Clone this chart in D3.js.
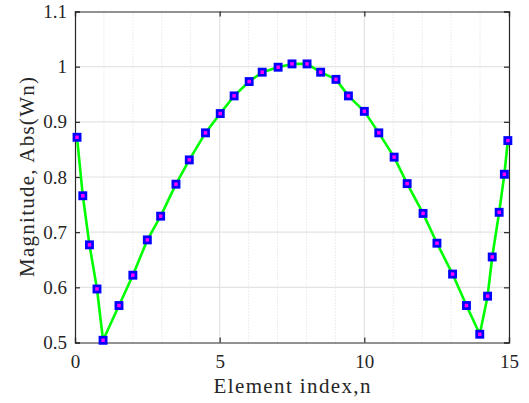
<!DOCTYPE html>
<html><head><meta charset="utf-8">
<script src="https://cdn.jsdelivr.net/npm/d3@7"></script>
<style>body{margin:0;background:#fff}</style>
</head><body>
<svg id="c" width="529" height="403"></svg>
<script>
const xValues = [0.07,0.27,0.5,0.76,0.97,1.52,2.0,2.5,2.96,3.49,3.95,4.51,5.02,5.5,6.02,6.47,7.02,7.5,8.02,8.49,9.02,9.45,10.0,10.5,11.03,11.48,12.03,12.51,13.05,13.53,13.99,14.26,14.42,14.66,14.84,14.96];
const yValues = [0.872,0.766,0.677,0.597,0.504,0.567,0.622,0.686,0.729,0.787,0.831,0.880,0.915,0.947,0.973,0.990,0.999,1.005,1.005,0.990,0.977,0.947,0.919,0.880,0.836,0.788,0.734,0.680,0.624,0.567,0.515,0.584,0.655,0.736,0.805,0.866];
const xTicks = [0,5,10,15];
const xMinorTicks = [1,2,3,4,6,7,8,9,11,12,13,14];
const yTicks = [0.5,0.6,0.7,0.8,0.9,1.0,1.1];
const yTickLabels = ["0.5","0.6","0.7","0.8","0.9","1","1.1"];
const xLabel = "Element index,n";
const yLabel = "Magnitude, Abs(Wn)";

const L=75, R=509, T=11.5, B=342.5;
const svg=d3.select("#c");
const x=d3.scaleLinear().domain([0,15]).range([L,R]);
const y=d3.scaleLinear().domain([0.5,1.1]).range([B,T]);
const font='"Liberation Serif"';

// minor grid
svg.append("g").selectAll("line").data(xMinorTicks).join("line")
  .attr("x1",d=>x(d)).attr("x2",d=>x(d)).attr("y1",T).attr("y2",B)
  .attr("stroke","#d4d4d4").attr("stroke-width",0.8).attr("stroke-dasharray","1,2");
// major grid
svg.append("g").selectAll("line").data(xTicks.slice(1,-1)).join("line")
  .attr("x1",d=>x(d)).attr("x2",d=>x(d)).attr("y1",T).attr("y2",B)
  .attr("stroke","#e3e3e3").attr("stroke-width",1.2);
svg.append("g").selectAll("line").data(yTicks.slice(1,-1)).join("line")
  .attr("y1",d=>y(d)).attr("y2",d=>y(d)).attr("x1",L).attr("x2",R)
  .attr("stroke","#e3e3e3").attr("stroke-width",1.2);

// axes
const ax=d3.axisBottom(x).tickValues(xTicks).tickSize(-5).tickFormat(d3.format("d")).tickPadding(12);
const gx=svg.append("g").attr("transform",`translate(0,${B})`).call(ax);
const gxt=svg.append("g").attr("transform",`translate(0,${T})`).call(d3.axisTop(x).tickValues(xTicks).tickSize(-5).tickFormat(""));
const ay=d3.axisLeft(y).tickValues(yTicks).tickSize(-5).tickFormat((d,i)=>yTickLabels[i]).tickPadding(8);
const gy=svg.append("g").attr("transform",`translate(${L},0)`).call(ay);
const gyr=svg.append("g").attr("transform",`translate(${R},0)`).call(d3.axisRight(y).tickValues(yTicks).tickSize(-5).tickFormat(""));
[gx,gxt,gy,gyr].forEach(g=>{
  g.select(".domain").attr("stroke","#262626").attr("stroke-width",1.2);
  g.selectAll(".tick line").attr("stroke","#262626").attr("stroke-width",1.2);
  g.selectAll("text").style("font-family",font).style("font-size","19px").attr("fill","#262626");
});
gx.selectAll("text").attr("dy","0.72em");

// line
const line=d3.line().x((d,i)=>x(xValues[i])).y(d=>y(d));
svg.append("path").datum(yValues).attr("d",line).attr("fill","none")
  .attr("stroke","#00ff00").attr("stroke-width",2.6).attr("stroke-linejoin","round");
// markers
const ms=6.2;
svg.append("g").selectAll("rect").data(yValues).join("rect")
  .attr("x",(d,i)=>x(xValues[i])-ms/2).attr("y",d=>y(d)-ms/2)
  .attr("width",ms).attr("height",ms)
  .attr("fill","#ff00ff").attr("stroke","#0000ff").attr("stroke-width",2.7);

// labels
svg.append("text").attr("x",(L+R)/2+0).attr("y",393).attr("text-anchor","middle")
  .style("font-family",font).style("font-size","21px").attr("fill","#262626")
  .attr("textLength",157).attr("lengthAdjust","spacing").text(xLabel);
svg.append("text").attr("transform",`translate(34,${(T+B)/2}) rotate(-90)`).attr("text-anchor","middle")
  .style("font-family",font).style("font-size","21px").attr("fill","#262626")
  .attr("textLength",200).attr("lengthAdjust","spacing").text(yLabel);
</script>
</body></html>
